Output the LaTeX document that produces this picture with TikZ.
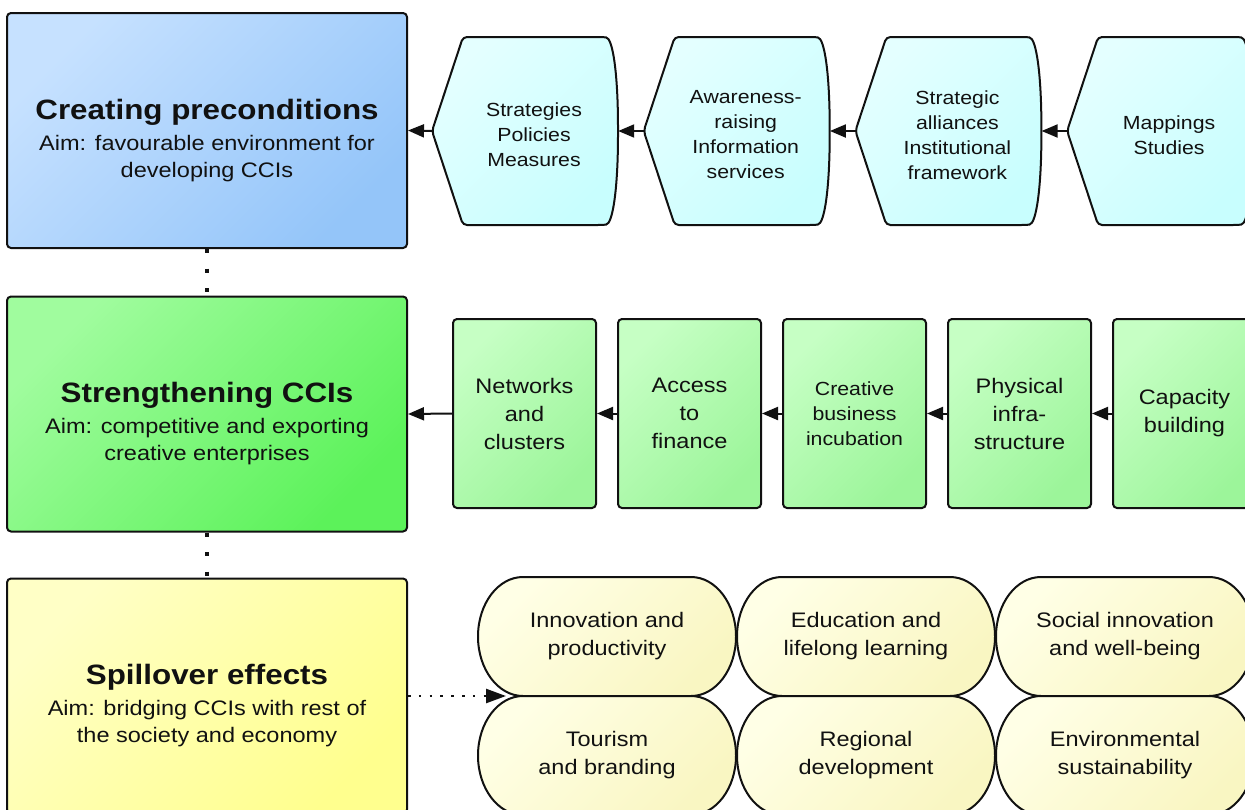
\documentclass[tikz,border=0pt]{standalone}
\usepackage{fontspec}
\setmainfont{Liberation Sans}[FakeStretch=1.12]
\usetikzlibrary{arrows.meta,calc}
\definecolor{edge}{HTML}{111111}
\definecolor{txt}{HTML}{111111}
\definecolor{blueA}{HTML}{C6E1FF}
\definecolor{blueB}{HTML}{94C5F9}
\definecolor{greenA}{HTML}{A0FC9E}
\definecolor{greenB}{HTML}{5CF25A}
\definecolor{yelA}{HTML}{FFFFC6}
\definecolor{yelB}{HTML}{FFFF8E}
\definecolor{cyanA}{HTML}{E4FFFF}
\definecolor{cyanB}{HTML}{C8FEFE}
\definecolor{lgA}{HTML}{C6FFC4}
\definecolor{lgB}{HTML}{9CF59A}
\definecolor{pillA}{HTML}{FFFFE6}
\definecolor{pillB}{HTML}{F9F6C2}
\begin{document}
\begin{tikzpicture}[x=1pt,y=-1pt,
  every node/.style={text=txt},
  diag/.style 2 args={top color=#1, bottom color=#2, shading angle=45},
  bigbox/.style={draw=edge, line width=2pt, rounded corners=4pt, minimum width=400pt, minimum height=235pt, inner sep=0pt},
  ttl/.style={font=\fontsize{28}{30}\selectfont\bfseries, inner sep=0pt},
  subt/.style={font=\fontsize{21}{27.3}\selectfont, align=center, inner sep=0pt},
  hexshape/.style={draw=edge, line width=2pt, rounded corners=4pt, diag={cyanA}{cyanB}},
  hexnode/.style={minimum width=186pt, minimum height=188pt, inner sep=0pt},
  hext/.style={font=\fontsize{19}{25}\selectfont, align=center, inner sep=0pt},
  gbox/.style={draw=edge, line width=2pt, rounded corners=4pt, minimum width=143pt, minimum height=189pt, inner sep=0pt, diag={lgA}{lgB}, align=center},
  gbig/.style={font=\fontsize{21}{28}\selectfont},
  gsmall/.style={font=\fontsize{19}{25}\selectfont},
  pillshape/.style={draw=edge, line width=2pt, diag={pillA}{pillB}},
  pillnode/.style={minimum width=258pt, minimum height=119pt, inner sep=0pt, font=\fontsize{21}{28}\selectfont, align=center},
  arr/.style={draw=edge, line width=2pt, -{Triangle[length=16pt,width=13pt]}},
  vdots/.style={draw=edge, line width=4pt, dash pattern=on 4pt off 15.5pt},
  dotarr/.style={draw=edge, line width=2.5pt, dash pattern=on 2.5pt off 8.3pt, -{Triangle[length=20pt,width=14pt]}}
]
\useasboundingbox (0,0) rectangle (1245,809);

% left column boxes
\node[bigbox, diag={blueA}{blueB}] (pre) at (207,130.5) {};
\node[bigbox, diag={greenA}{greenB}] (str) at (207,414) {};
\node[bigbox, diag={yelA}{yelB}] (spi) at (207,696) {};

\node[ttl, anchor=base] (preT) at (207,119.3) {Creating preconditions};
\node[subt, anchor=base] (preS) at (207,177.3) {Aim: favourable environment for\\developing CCIs};
\node[ttl, anchor=base] (strT) at (207,402.3) {Strengthening CCIs};
\node[subt, anchor=base] (strS) at (207,460.3) {Aim: competitive and exporting\\creative enterprises};
\node[ttl, anchor=base] (spiT) at (207,684.3) {Spillover effects};
\node[subt, anchor=base] (spiS) at (207,742.3) {Aim: bridging CCIs with rest of\\the society and economy};

\draw[vdots] (pre.south) -- (str.north);
\draw[vdots] (str.south) -- (spi.north);

% top row: display shapes
\foreach \L/\i/\t in {432/1/{Strategies\\Policies\\Measures},
                      643.7/2/{Awareness-\\raising\\Information\\services},
                      855.4/3/{Strategic\\alliances\\Institutional\\framework},
                      1067.1/4/{Mappings\\Studies}}{
  \pgfmathsetmacro\R{\L+186}
  \path[hexshape] (\L,131) -- ({\L+31},37) -- ({\R-16},37)
     .. controls ({\R-5},38) and (\R,75) .. (\R,131)
     .. controls (\R,187) and ({\R-5},224) .. ({\R-16},225)
     -- ({\L+31},225) -- cycle;
  \node[hexnode] (h\i) at ({\L+93},131) {};
  \node[hext] (h\i t) at ({\L+102},135) {\t};
}
\draw[arr] (h1.west) -- (pre.east);
\draw[arr] (h2.west) -- (h1.east);
\draw[arr] (h3.west) -- (h2.east);
\draw[arr] (h4.west) -- (h3.east);

% middle row: green boxes
\node[gbox, gbig] (g1) at (524.5,413.5) {Networks\\and\\clusters};
\node[gbox, gbig] (g2) at (689.5,413.5) {Access\\to\\finance};
\node[gbox, gsmall] (g3) at (854.5,413.5) {Creative\\business\\incubation};
\node[gbox, gbig] (g4) at (1019.5,413.5) {Physical\\infra-\\structure};
\node[gbox, gbig] (g5) at (1184.5,413.5) {Capacity\\building};
\draw[arr] (g1.west) -- (str.east);
\draw[arr] (g2.west) -- (g1.east);
\draw[arr] (g3.west) -- (g2.east);
\draw[arr] (g4.west) -- (g3.east);
\draw[arr] (g5.west) -- (g4.east);

% bottom: pills
\foreach \cx/\cy/\n/\t in {607/636.5/p1/{Innovation and\\productivity},
                           866/636.5/p2/{Education and\\lifelong learning},
                           1125/636.5/p3/{Social innovation\\and well-being},
                           607/755.5/p4/{Tourism\\and branding},
                           866/755.5/p5/{Regional\\development},
                           1125/755.5/p6/{Environmental\\sustainability}}{
  \path[pillshape] ({\cx-84},{\cy-59.5}) -- ({\cx+84},{\cy-59.5})
     arc[start angle=90,end angle=-90,x radius=45pt,y radius=59.5pt]
     -- ({\cx-84},{\cy+59.5})
     arc[start angle=270,end angle=90,x radius=45pt,y radius=59.5pt] -- cycle;
  \node[pillnode] (\n) at (\cx,\cy) {\t};
}
\coordinate (pj) at (506,696);
\draw[dotarr] (spi.east) -- (pj);
\end{tikzpicture}
\end{document}
